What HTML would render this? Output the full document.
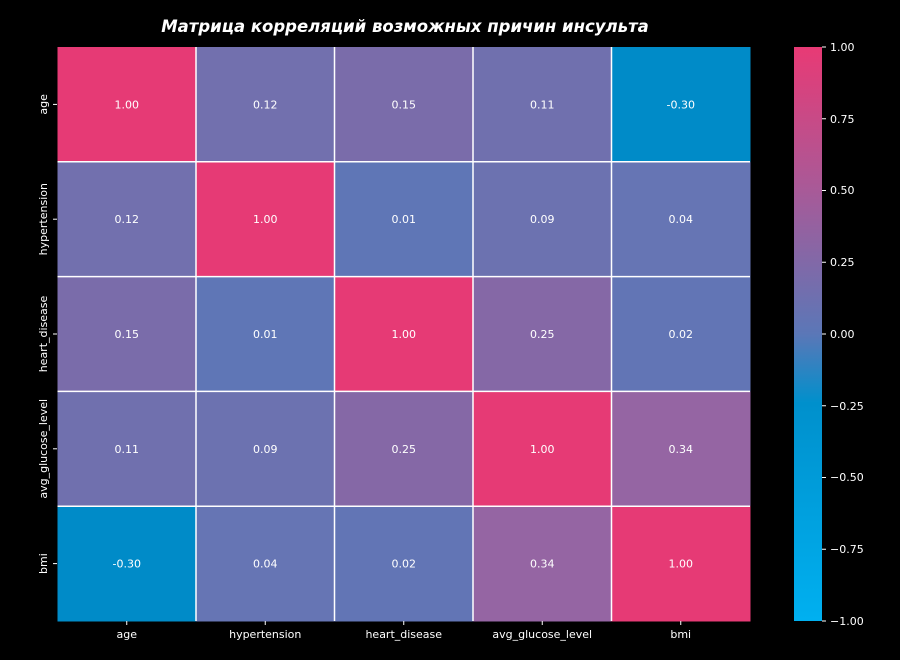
<!DOCTYPE html>
<html><head><meta charset="utf-8"><style>
body{margin:0;background:#000;width:900px;height:655px;overflow:hidden}
svg text{font-family:"DejaVu Sans","Liberation Sans",sans-serif}
</style></head><body>
<svg width="900" height="655" xmlns="http://www.w3.org/2000/svg">
<defs><linearGradient id="cb" x1="0" y1="0" x2="0" y2="1">
<stop offset="0" stop-color="#e83a75"/>
<stop offset="0.25" stop-color="#a85a98"/>
<stop offset="0.5" stop-color="#5b77b7"/>
<stop offset="0.62" stop-color="#0090cc"/>
<stop offset="1" stop-color="#00b0f0"/>
</linearGradient></defs>
<text x="405" y="32" fill="#fff" font-size="16.5" font-weight="bold" font-style="italic" text-anchor="middle">Матрица корреляций возможных причин инсульта</text>
<g id="cells"></g>
<g id="grid" stroke="#fff" stroke-width="1.5"></g>
<rect x="794" y="47" width="28" height="574" fill="url(#cb)"/>
<g fill="#fff" font-size="11">
<g stroke="#fff" stroke-width="1">
<line x1="822" y1="47" x2="826" y2="47"/><line x1="822" y1="118.75" x2="826" y2="118.75"/><line x1="822" y1="190.5" x2="826" y2="190.5"/><line x1="822" y1="262.25" x2="826" y2="262.25"/><line x1="822" y1="334" x2="826" y2="334"/><line x1="822" y1="405.75" x2="826" y2="405.75"/><line x1="822" y1="477.5" x2="826" y2="477.5"/><line x1="822" y1="549.25" x2="826" y2="549.25"/><line x1="822" y1="621" x2="826" y2="621"/>
</g>
<text x="830" y="51">1.00</text><text x="830" y="123">0.75</text><text x="830" y="194">0.50</text><text x="830" y="266">0.25</text><text x="830" y="338">0.00</text><text x="830" y="410">−0.25</text><text x="830" y="481">−0.50</text><text x="830" y="553">−0.75</text><text x="830" y="625">−1.00</text>
</g>
</svg>
<script>
const v=[[1,.12,.15,.11,-.30],[.12,1,.01,.09,.04],[.15,.01,1,.25,.02],[.11,.09,.25,1,.34],[-.30,.04,.02,.34,1]];
const c={"1.00":"#e63a75","0.12":"#7270ae","0.15":"#7a6caa","0.11":"#7070ae","-0.30":"#008bc8","0.04":"#6675b4","0.01":"#5f76b6","0.09":"#6c72b0","0.25":"#8568a6","0.02":"#6275b5","0.34":"#9565a3"};
const lab=["age","hypertension","heart_disease","avg_glucose_level","bmi"];
const x0=57.5,y0=47,w=138.5,h=114.8,ns="http://www.w3.org/2000/svg";
const svg=document.querySelector("svg"),g=document.getElementById("cells"),gr=document.getElementById("grid");
function el(t,a,p,txt){const e=document.createElementNS(ns,t);for(const k in a)e.setAttribute(k,a[k]);if(txt!=null)e.textContent=txt;(p||svg).appendChild(e);return e;}
for(let i=0;i<5;i++)for(let j=0;j<5;j++){const s=v[i][j].toFixed(2);
el("rect",{x:x0+j*w,y:y0+i*h,width:w+0.5,height:h+0.5,fill:c[s]},g);}
for(let k=1;k<5;k++){el("line",{x1:x0+k*w,y1:y0,x2:x0+k*w,y2:y0+5*h},gr);el("line",{x1:x0,y1:y0+k*h,x2:x0+5*w,y2:y0+k*h},gr);}
for(let i=0;i<5;i++)for(let j=0;j<5;j++){const s=v[i][j].toFixed(2);
el("text",{x:x0+j*w+w/2,y:y0+i*h+h/2+4,fill:"#fff","font-size":"11","text-anchor":"middle"},null,s);}
for(let k=0;k<5;k++){const cx=x0+k*w+w/2,cy=y0+k*h+h/2;
el("line",{x1:cx,y1:621,x2:cx,y2:625,stroke:"#fff"});
el("text",{x:cx,y:638,fill:"#fff","font-size":"11","text-anchor":"middle"},null,lab[k]);
el("line",{x1:53,y1:cy,x2:57,y2:cy,stroke:"#fff"});
el("text",{x:0,y:0,fill:"#fff","font-size":"11","text-anchor":"middle",transform:`translate(47,${cy}) rotate(-90)`},null,lab[k]);}
</script>
</body></html>
